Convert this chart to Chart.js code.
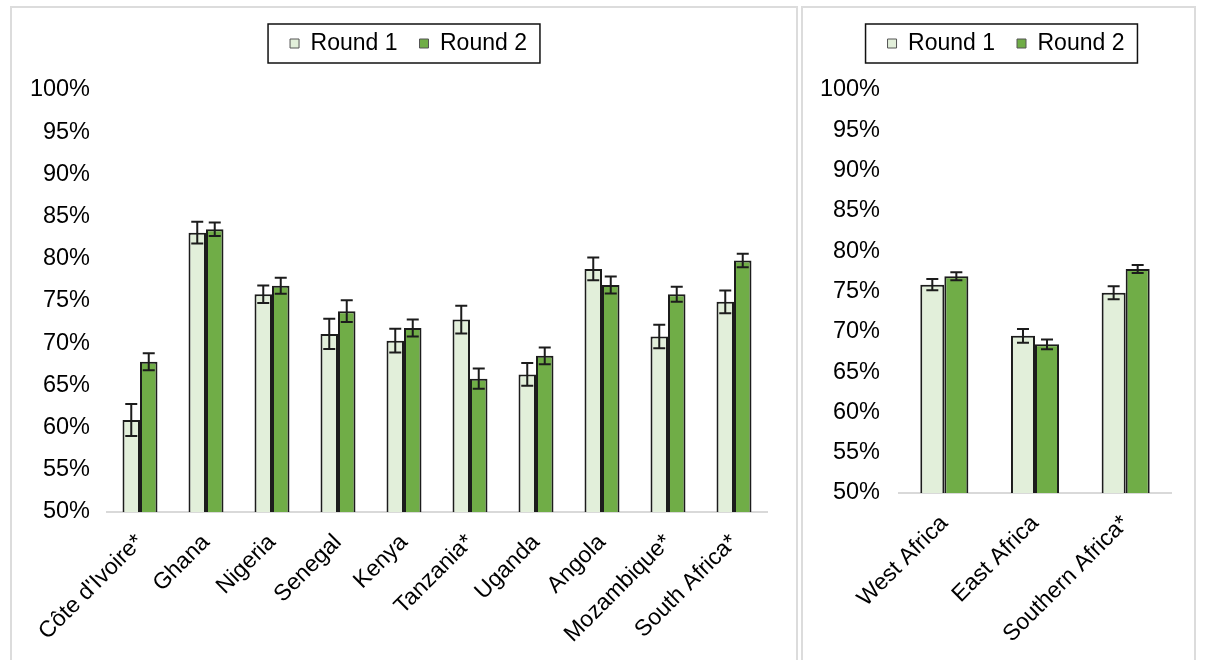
<!DOCTYPE html>
<html>
<head>
<meta charset="utf-8">
<script src="https://cdn.jsdelivr.net/npm/chart.js@4.4.1/dist/chart.umd.min.js"></script>
<style>
  html, body { margin: 0; padding: 0; background: #fff; width: 1205px; height: 660px; overflow: hidden; }
  .panel { position: absolute; border: 2px solid #dcdcdc; background: #fff; }
  #p1 { left: 10px; top: 6px; width: 784px; height: 660px; }
  #p2 { left: 801px; top: 6px; width: 391px; height: 660px; }
  canvas { display: block; }
</style>
</head>
<body>
<div class="panel" id="p1"><canvas id="c1" width="784" height="652"></canvas></div>
<div class="panel" id="p2"><canvas id="c2" width="391" height="652"></canvas></div>
<script>
// ---- Data ----
const countries = ["Côte d'Ivoire*", "Ghana", "Nigeria", "Senegal", "Kenya", "Tanzania*", "Uganda", "Angola", "Mozambique*", "South Africa*"];
const countryRound1 = [60.9, 83.1, 75.8, 71.1, 70.3, 72.8, 66.3, 78.8, 70.8, 74.9];
const countryRound1Err = [1.9, 1.3, 1.05, 1.8, 1.4, 1.65, 1.35, 1.35, 1.4, 1.35];
const countryRound2 = [67.8, 83.5, 76.8, 73.8, 71.8, 65.8, 68.5, 76.9, 75.8, 79.8];
const countryRound2Err = [1.0, 0.8, 0.95, 1.3, 1.0, 1.2, 1.0, 1.0, 0.9, 0.8];

const regions = ["West Africa", "East Africa", "Southern Africa*"];
const regionRound1 = [75.85, 69.5, 74.85];
const regionRound1Err = [0.7, 0.85, 0.8];
const regionRound2 = [76.9, 68.45, 77.8];
const regionRound2Err = [0.5, 0.6, 0.5];

const seriesLabels = ["Round 1", "Round 2"];
const yMin = 50, yMax = 100, yStep = 5;

// ---- Styling ----
const FONT = "'Liberation Sans', Arial, Helvetica, sans-serif";
const COLOR_R1 = '#E2EFDA';
const COLOR_R2 = '#70AD47';
const EDGE = '#1c1c1c';

const errorBarPlugin = {
  id: 'errorBars',
  afterDatasetsDraw(chart, args, opts) {
    const ctx = chart.ctx;
    const yScale = chart.scales.y;
    ctx.save();
    ctx.strokeStyle = EDGE;
    ctx.lineWidth = 2;
    chart.data.datasets.forEach((ds, i) => {
      const meta = chart.getDatasetMeta(i);
      meta.data.forEach((el, j) => {
        const v = ds.data[j], e = ds.errors[j];
        const yt = yScale.getPixelForValue(v + e);
        const yb = yScale.getPixelForValue(v - e);
        const x = el.x, cw = opts.cap;
        ctx.beginPath();
        ctx.moveTo(x, yt); ctx.lineTo(x, yb);
        ctx.moveTo(x - cw / 2, yt); ctx.lineTo(x + cw / 2, yt);
        ctx.moveTo(x - cw / 2, yb); ctx.lineTo(x + cw / 2, yb);
        ctx.stroke();
      });
    });
    ctx.restore();
  }
};

const legendFramePlugin = {
  id: 'legendFrame',
  beforeInit(chart) {
    const fit = chart.legend.fit;
    chart.legend.fit = function () {
      fit.call(this);
      this.height += 25;
      const shift = chart.options.plugins.legendFrame.shift || 0;
      if (this.lineWidths && this.lineWidths.length) this.lineWidths[0] -= 2 * shift;
    };
  },
  afterDraw(chart) {
    const lg = chart.legend;
    if (!lg || !lg.legendHitBoxes || !lg.legendHitBoxes.length) return;
    const hb = lg.legendHitBoxes;
    const left = Math.min(...hb.map(h => h.left)) - 22;
    const right = Math.max(...hb.map(h => h.left + h.width)) + 13;
    const cy = hb[0].top + hb[0].height / 2;
    const ctx = chart.ctx;
    ctx.save();
    ctx.strokeStyle = '#111';
    ctx.lineWidth = 1.5;
    ctx.strokeRect(left, cy - 19.5, right - left, 39);
    ctx.restore();
  }
};

function makeChart(canvasId, labels, r1, r1e, r2, r2e, layout) {
  return new Chart(document.getElementById(canvasId), {
    type: 'bar',
    data: {
      labels: labels,
      datasets: [
        { label: seriesLabels[0], data: r1, errors: r1e, backgroundColor: COLOR_R1, borderColor: EDGE, borderWidth: 2 },
        { label: seriesLabels[1], data: r2, errors: r2e, backgroundColor: COLOR_R2, borderColor: EDGE, borderWidth: 2 }
      ]
    },
    options: {
      responsive: false,
      animation: false,
      devicePixelRatio: 1,
      datasets: { bar: { categoryPercentage: 0.53, barPercentage: 1.0, borderSkipped: 'start' } },
      layout: { padding: { top: 2, left: 0, right: layout.right, bottom: 0 } },
      plugins: {
        tooltip: { enabled: false },
        errorBars: { cap: 12 },
        legendFrame: { shift: 19 },
        legend: {
          position: 'top',
          labels: {
            font: { family: FONT, size: 23 },
            color: '#000',
            boxWidth: 9,
            boxHeight: 9,
            padding: 22,
            generateLabels(chart) {
              const items = Chart.defaults.plugins.legend.labels.generateLabels(chart);
              items.forEach(it => { it.lineWidth = 1; it.strokeStyle = '#555'; });
              return items;
            }
          }
        }
      },
      scales: {
        x: {
          grid: { display: false, drawTicks: false },
          border: { display: true, color: '#d9d9d9', width: 2 },
          ticks: {
            font: { family: FONT, size: 23 },
            color: '#000',
            minRotation: 45,
            maxRotation: 45,
            padding: 17,
            autoSkip: false
          },
          afterFit(scale) { scale.height = layout.xHeight; }
        },
        y: {
          min: yMin,
          max: yMax,
          grid: { display: false, drawTicks: false },
          border: { display: false },
          ticks: {
            stepSize: yStep,
            font: { family: FONT, size: 23.5 },
            color: '#000',
            padding: layout.yPad,
            callback: v => v + '%'
          },
          afterFit(scale) { scale.width = layout.yWidth; }
        }
      }
    },
    plugins: [errorBarPlugin, legendFramePlugin]
  });
}

makeChart('c1', countries, countryRound1, countryRound1Err, countryRound2, countryRound2Err,
  { right: 29, xHeight: 148, yWidth: 95, yPad: 17 });
makeChart('c2', regions, regionRound1, regionRound1Err, regionRound2, regionRound2Err,
  { right: 23, xHeight: 167, yWidth: 96, yPad: 19 });
</script>
</body>
</html>
